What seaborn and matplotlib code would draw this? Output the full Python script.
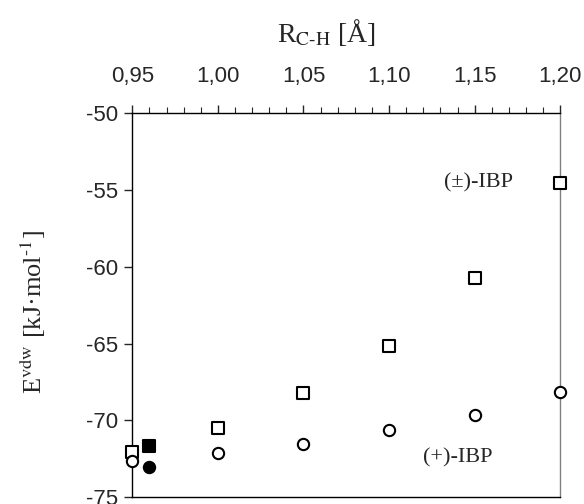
import numpy as np
import pandas as pd
import matplotlib
matplotlib.use('Agg')
import matplotlib.pyplot as plt
from matplotlib.ticker import MultipleLocator
import seaborn as sns

# data
r_ch = [0.95, 1.00, 1.05, 1.10, 1.15, 1.20]
e_rac = [-72.1, -70.5, -68.25, -65.15, -60.75, -54.55]    # (±)-IBP, open squares
e_plus = [-72.65, -72.15, -71.55, -70.65, -69.65, -68.15]  # (+)-IBP, open circles
r_exp = [0.96]
e_rac_exp = [-71.65]   # filled square
e_plus_exp = [-73.05]  # filled circle

x_ticks = [0.95, 1.00, 1.05, 1.10, 1.15, 1.20]
x_ticklabels = ['0,95', '1,00', '1,05', '1,10', '1,15', '1,20']
y_ticks = [-50, -55, -60, -65, -70, -75]

sns.set_style('white')
plt.rcParams['font.family'] = ['Liberation Sans', 'DejaVu Sans']
plt.rcParams['mathtext.fontset'] = 'stix'
plt.rcParams['axes.unicode_minus'] = False

fig = plt.figure(figsize=(5.84, 5.04), dpi=100)
ax = fig.add_axes([0.2265, 0.0139, 0.9594 - 0.2265, 0.7752 - 0.0139])

df = pd.DataFrame({'r': r_ch, 'rac': e_rac, 'plus': e_plus})
dfe = pd.DataFrame({'r': r_exp, 'rac': e_rac_exp, 'plus': e_plus_exp})

# open = computed, filled = reference point
kw = dict(s=66, linewidth=1.5, edgecolor='black', clip_on=False, zorder=5, legend=False)
sns.scatterplot(data=df, x='r', y='rac', marker='s', color='white', ax=ax, **kw)
sns.scatterplot(data=df, x='r', y='plus', marker='o', color='white', ax=ax, **kw)
sns.scatterplot(data=dfe, x='r', y='rac', marker='s', color='black', ax=ax, **kw)
sns.scatterplot(data=dfe, x='r', y='plus', marker='o', color='black', ax=ax, **kw)

ax.set_xlim(0.95, 1.20)
ax.set_ylim(-75, -50)

# x axis on top, minor ticks every 0.01
ax.xaxis.tick_top()
ax.xaxis.set_label_position('top')
ax.set_xticks(x_ticks)
ax.set_xticklabels(x_ticklabels)
ax.xaxis.set_minor_locator(MultipleLocator(0.01))
ax.tick_params(axis='x', which='major', direction='out', length=6, width=1,
               pad=13, labelsize=16, top=True, bottom=False)
ax.tick_params(axis='x', which='minor', direction='out', length=4, width=0.8,
               top=True, bottom=False)
ax.set_yticks(y_ticks)
ax.tick_params(axis='y', which='major', direction='out', length=5.5, width=1,
               pad=5, labelsize=16, left=True, right=False)

for side in ['top', 'left', 'bottom']:
    ax.spines[side].set_color('black')
    ax.spines[side].set_linewidth(1.0)
ax.spines['right'].set_color('#808080')
ax.spines['right'].set_linewidth(1.0)

ax.set_xlabel(r'R$_{\rm C\text{-}H}$ [Å]', family='Liberation Serif', fontsize=20)
ax.xaxis.label.set_va('center')
ax.xaxis.set_label_coords((326 - 132.3) / 428, (497 - 32) / (497 - 113.3))
ax.set_ylabel(r'E$^{\rm vdw}$ [kJ·mol$^{\text{-}1}$]', family='Liberation Serif', fontsize=19)
ax.yaxis.label.set_va('center')
ax.yaxis.set_label_coords((33 - 132.3) / 428, (497 - 312) / (497 - 113.3))

ax.text(1.152, -54.55, '(±)-IBP', family='Liberation Serif', fontsize=16,
        ha='center', va='center')
ax.text(1.140, -72.45, '(+)-IBP', family='Liberation Serif', fontsize=16,
        ha='center', va='center')

fig.savefig('out.png', dpi=100)
